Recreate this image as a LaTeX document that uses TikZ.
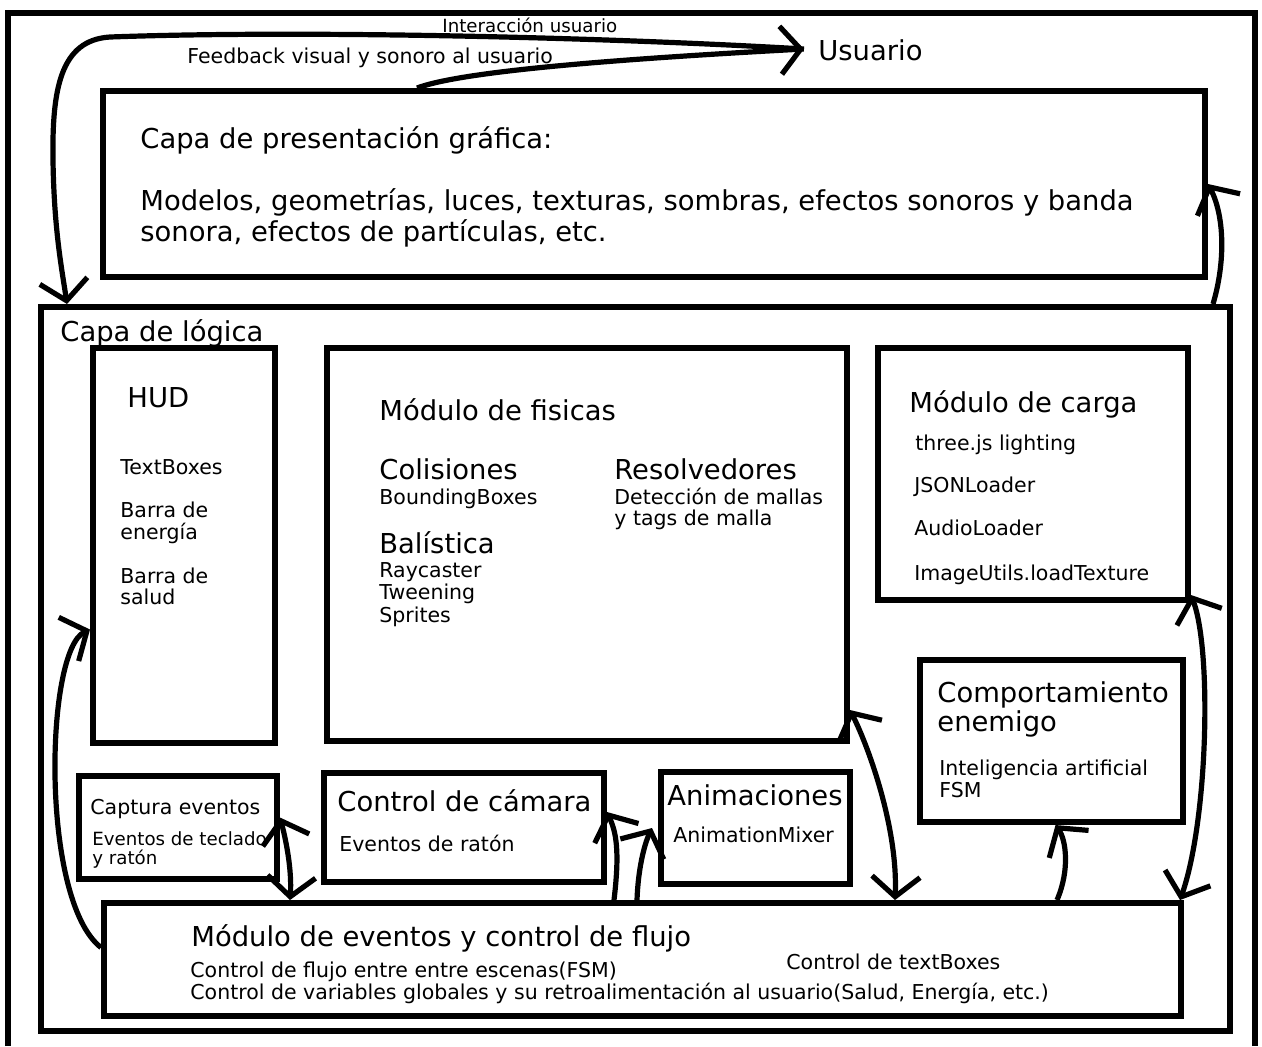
\documentclass[tikz,border=0pt]{standalone}
\usepackage{fontspec}
\setmainfont{DejaVu Sans}
\usetikzlibrary{arrows.meta,fit}
\begin{document}
\begin{tikzpicture}[x=0.5pt,y=-0.5pt,
  box/.style={draw, line width=3pt, inner sep=0pt, fill=none},
  big/.style={anchor=base west, inner sep=0pt, font=\fontsize{13.7}{16}\selectfont},
  small/.style={anchor=base west, inner sep=0pt, font=\fontsize{10.25}{12}\selectfont},
  tiny/.style={anchor=base west, inner sep=0pt, font=\fontsize{9.1}{11}\selectfont},
  conn/.style={line width=2.6pt, -{Straight Barb[length=10pt,width=24pt]}},
  dconn/.style={line width=2.6pt, {Straight Barb[length=10pt,width=24pt]}-{Straight Barb[length=10pt,width=24pt]}}
]
\useasboundingbox (0,0) rectangle (1262,1046);
\fill[white] (0,0) rectangle (1262,1046);

% outer frame (bottom edge lies outside the picture)
\draw[line width=3.2pt] (8,1046) -- (8,13) -- (1255,13) -- (1255,1046);

% boxes
\node (pres)   [box, fit={(103,91) (1205,277)}] {};
\node (logica) [box, fit={(41,307) (1230,1031)}] {};
\node (hud)    [box, fit={(93,348) (275,743)}] {};
\node (fis)    [box, fit={(327,348) (847,741)}] {};
\node (carga)  [box, fit={(878,348) (1188,600)}] {};
\node (comp)   [box, fit={(920,660) (1183,822)}] {};
\node (capt)   [box, fit={(79,776) (277,879)}] {};
\node (cam)    [box, fit={(324,773) (604,882)}] {};
\node (anim)   [box, fit={(661,772) (850,884)}] {};
\node (eve)    [box, fit={(104,903) (1181,1016)}] {};

% top texts
\node (tint) [tiny]  at (442,32) {Interacción usuario};
\node (tfb)  [small] at (187,63) {Feedback visual y sonoro al usuario};
\node (usr)  [big]   at (818,60) {Usuario};
\coordinate (usrtip) at (804,49);

% presentation layer
\node (p1) [big] at (140,148) {Capa de presentación gráfica:};
\node (p2) [big] at (140,210) {Modelos, geometrías, luces, texturas, sombras, efectos sonoros y banda};
\node (p3) [big] at (140,241) {sonora, efectos de partículas, etc.};

% logic layer
\node (l1) [big] at (60,341) {Capa de lógica};

% HUD
\node (h1) [big]   at (127,407) {HUD};
\node (h2) [small] at (120,474) {TextBoxes};
\node (h3) [small] at (120,517) {Barra de};
\node (h4) [small] at (120,539) {energía};
\node (h5) [small] at (120,583) {Barra de};
\node (h6) [small] at (120,604) {salud};

% physics
\node (f1) [big]   at (379,420) {Módulo de fisicas};
\node (f2) [big]   at (379,479) {Colisiones};
\node (f3) [small] at (379,504) {BoundingBoxes};
\node (f4) [big]   at (379,553) {Balística};
\node (f5) [small] at (379,577) {Raycaster};
\node (f6) [small] at (379,599) {Tweening};
\node (f7) [small] at (379,622) {Sprites};
\node (f8) [big]   at (614,479) {Resolvedores};
\node (f9) [small] at (614,504) {Detección de mallas};
\node (f10)[small] at (614,525) {y tags de malla};

% loading
\node (c1) [big]   at (909,412) {Módulo de carga};
\node (c2) [small] at (915,450) {three.js lighting};
\node (c3) [small] at (914,492) {JSONLoader};
\node (c4) [small] at (914,535) {AudioLoader};
\node (c5) [small] at (914,580) {ImageUtils.loadTexture};

% enemy behaviour
\node (e1) [big]   at (937,702) {Comportamiento};
\node (e2) [big]   at (937,731) {enemigo};
\node (e3) [small] at (939,775) {Inteligencia artificial};
\node (e4) [small] at (939,797) {FSM};

% capture
\node (k1) [small] at (90,814) {Captura eventos};
\node (k2) [tiny]  at (92,845) {Eventos de teclado};
\node (k3) [tiny]  at (92,864) {y ratón};

% camera
\node (m1) [big]   at (337,811) {Control de cámara};
\node (m2) [small] at (339,851) {Eventos de ratón};

% animations
\node (a1) [big]   at (667,805) {Animaciones};
\node (a2) [small] at (673,842) {AnimationMixer};

% events
\node (v1) [big]   at (191,946) {Módulo de eventos y control de flujo};
\node (v2) [small] at (190,977) {Control de flujo entre entre escenas(FSM)};
\node (v3) [small] at (190,999) {Control de variables globales y su retroalimentación al usuario(Salud, Energía, etc.)};
\node (v4) [small] at (786,969) {Control de textBoxes};

% connectors
% user interaction -> logic layer
\draw[conn] (usrtip) .. controls (600,37) and (300,30) .. (110,37)
            .. controls (60,40) and (52,90) .. (53,160)
            .. controls (54,230) and (62,270) .. ([xshift=14.5pt]logica.north west);
% presentation -> user feedback
\draw[conn] ([xshift=158.5pt]pres.north west) .. controls (460,72) and (600,60) .. (usrtip);
% logic -> presentation
\draw[conn] ([xshift=-10pt]logica.north east) .. controls (1226,260) and (1224,215) .. (pres.east);
% events -> HUD
\draw[conn] ([yshift=6pt]eve.west) .. controls (40,900) and (45,650) .. ([yshift=-42pt]hud.west);
% capture <-> events
\draw[dconn] ([yshift=5pt]capt.east) .. controls (286,840) and (292,870) .. ([xshift=94.5pt]eve.north west);
% events -> camera
\draw[conn] ([xshift=256.5pt]eve.north west) .. controls (620,850) and (616,832) .. ([yshift=-21pt]cam.north east);
% events -> animations
\draw[conn] ([xshift=268pt]eve.north west) .. controls (638,870) and (644,845) .. ([xshift=-3pt]anim.west);
% physics <-> events
\draw[dconn] ([yshift=17pt]fis.south east) .. controls (870,750) and (898,830) .. ([xshift=397pt]eve.north west);
% events -> enemy behaviour
\draw[conn] ([xshift=478pt]eve.north west) .. controls (1070,870) and (1066,840) .. ([xshift=2pt]comp.south);
% loading <-> events
\draw[dconn] ([yshift=4pt]carga.south east) .. controls (1212,650) and (1208,820) .. ([xshift=-2pt]eve.north east);
\end{tikzpicture}
\end{document}
